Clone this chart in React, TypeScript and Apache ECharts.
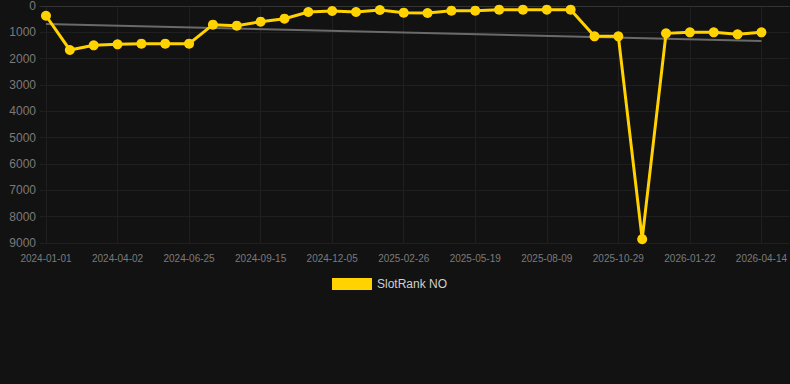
import React, { useEffect, useRef } from "react";
import * as echarts from "echarts";

const dates = [
  "2024-01-01", "2024-01-31", "2024-03-02", "2024-04-02", "2024-04-30", "2024-05-28",
  "2024-06-25", "2024-07-22", "2024-08-19", "2024-09-15", "2024-10-12", "2024-11-08",
  "2024-12-05", "2025-01-01", "2025-01-29", "2025-02-26", "2025-03-26", "2025-04-22",
  "2025-05-19", "2025-06-15", "2025-07-12", "2025-08-09", "2025-09-05", "2025-10-02",
  "2025-10-29", "2025-11-26", "2025-12-24", "2026-01-22", "2026-02-19", "2026-03-18",
  "2026-04-14",
];

const rankValues = [
  370, 1670, 1495, 1456, 1430, 1430, 1430, 710, 747, 596, 482, 228, 190, 228, 152, 253,
  266, 178, 178, 140, 140, 140, 140, 1152, 1152, 8854, 1038, 1000, 1000, 1077, 1000,
];

const trendValues = [684, 1329];

const yTicks = [0, 1000, 2000, 3000, 4000, 5000, 6000, 7000, 8000, 9000];
const labelIndices = [0, 3, 6, 9, 12, 15, 18, 21, 24, 27, 30];

export default function App() {
  const ref = useRef<HTMLDivElement>(null);
  useEffect(() => {
    if (!ref.current) return;
    const chart = echarts.init(ref.current, null, { renderer: "svg" });
    const last = dates.length - 1;
    chart.setOption({
      animation: false,
      backgroundColor: "#121212",
      grid: { left: 40, right: 0, top: 6, bottom: 141, containLabel: false },
      legend: {
        data: ["SlotRank NO"],
        top: 273,
        left: 327,
        itemWidth: 40,
        itemHeight: 12,
        icon: "rect",
        textStyle: { color: "#d0d0d0", fontSize: 12, fontFamily: "Arial, Liberation Sans, sans-serif" },
      },
      xAxis: {
        type: "value",
        min: -0.2513,
        max: 31.17,
        axisLine: { show: true, lineStyle: { color: "#333" } },
        axisTick: { show: false, customValues: labelIndices },
        splitLine: { show: true, lineStyle: { color: "#1f1f1f", width: 1 } },
        axisLabel: {
          customValues: labelIndices,
          color: "#7a7a7a",
          fontSize: 10,
          margin: 10,
          fontFamily: "Arial, Liberation Sans, sans-serif",
          formatter: (v: number) => dates[Math.round(v)] ?? "",
        },
      },
      yAxis: {
        type: "value",
        inverse: true,
        min: yTicks[0],
        max: yTicks[yTicks.length - 1],
        interval: 1000,
        axisLine: { show: false },
        axisTick: { show: false },
        splitLine: { show: true, lineStyle: { color: "#1f1f1f", width: 1 } },
        axisLabel: {
          color: "#7a7a7a",
          fontSize: 12,
          margin: 4,
          fontFamily: "Arial, Liberation Sans, sans-serif",
          formatter: (v: number) => String(v),
        },
      },
      series: [
        {
          name: "Trend",
          type: "line",
          data: [[0, trendValues[0]], [last, trendValues[1]]],
          symbol: "none",
          lineStyle: { color: "#6a6a6a", width: 2 },
          z: 1,
          silent: true,
        },
        {
          name: "SlotRank NO",
          type: "line",
          data: rankValues.map((v, i) => [i, v]),
          symbol: "circle",
          symbolSize: 10,
          itemStyle: { color: "#FFD200" },
          lineStyle: { color: "#FFD200", width: 3, join: "miter", miterLimit: 10 },
          z: 3,
        },
      ],
    });
    return () => chart.dispose();
  }, []);
  return (
    <div
      ref={ref}
      style={{ position: "absolute", left: 0, top: 0, width: 790, height: 384 }}
    />
  );
}
